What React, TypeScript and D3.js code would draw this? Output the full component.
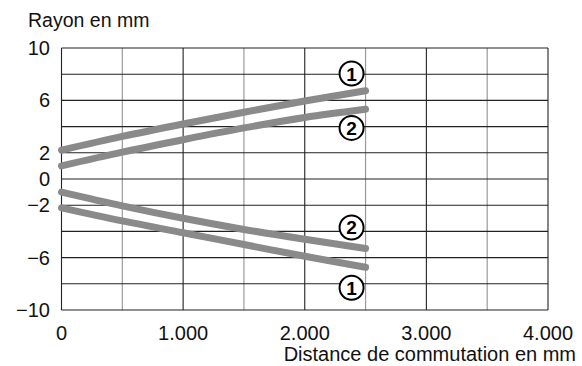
import React from "react";
import * as d3 from "d3";

const xValues = [0, 500, 1000, 1500, 2000, 2500];
const upper1 = [2.2, 3.25, 4.2, 5.1, 5.95, 6.74];
const upper2 = [1.0, 2.05, 3.0, 3.9, 4.7, 5.32];
const lower2 = [-1.0, -2.05, -3.0, -3.85, -4.6, -5.3];
const lower1 = [-2.2, -3.2, -4.1, -5.0, -5.9, -6.74];
const seriesList = [upper1, upper2, lower2, lower1];

const xTicks = [0, 1000, 2000, 3000, 4000];
const xTickLabels = ["0", "1.000", "2.000", "3.000", "4.000"];
const xMinorTicks = [500, 1500, 2500, 3500];
const yGrid = [-10, -8, -6, -4, -2, 0, 2, 4, 6, 8, 10];
const yTickLabels = [10, 6, 2, 0, -2, -6, -10];

const curveMarks = [
  { label: "1", x: 2500, y: 8.05 },
  { label: "2", x: 2500, y: 3.9 },
  { label: "2", x: 2500, y: -3.7 },
  { label: "1", x: 2500, y: -8.3 },
];

const W = 582;
const H = 366;
const left = 61.5;
const right = 548;
const top = 48;
const bottom = 310;

export default function App() {
  const x = d3.scaleLinear().domain([0, 4000]).range([left, right]);
  const y = d3.scaleLinear().domain([-10, 10]).range([bottom, top]);
  const line = d3
    .line<number>()
    .x((_, i) => x(xValues[i]))
    .y((d) => y(d))
    .curve(d3.curveMonotoneX);
  const font = "'Liberation Sans', Arial, sans-serif";
  return (
    <svg
      width={W}
      height={H}
      style={{ position: "absolute", left: 0, top: 0, background: "#fff" }}
      fontFamily={font}
    >
      {xMinorTicks.map((t) => (
        <line key={"xm" + t} x1={x(t)} x2={x(t)} y1={top} y2={bottom} stroke="#9a9a9a" strokeWidth={1.2} />
      ))}
      {yGrid.map((t) => (
        <line key={"yg" + t} x1={left} x2={right} y1={y(t)} y2={y(t)} stroke="#222" strokeWidth={1.1} />
      ))}
      {xTicks.map((t) => (
        <line key={"xg" + t} x1={x(t)} x2={x(t)} y1={top} y2={bottom} stroke="#222" strokeWidth={1.1} />
      ))}
      {seriesList.map((s, i) => (
        <path
          key={"s" + i}
          d={line(s) || ""}
          fill="none"
          stroke="#8a8a8a"
          strokeWidth={7}
          strokeLinecap="round"
        />
      ))}
      {curveMarks.map((m, i) => (
        <g key={"m" + i} transform={`translate(${x(m.x) - 14},${y(m.y)})`}>
          <circle r={12} fill="#fff" stroke="#000" strokeWidth={2} />
          <text
            y={0.5}
            textAnchor="middle"
            dominantBaseline="central"
            fontSize={19}
            fontWeight="bold"
            fill="#000"
          >
            {m.label}
          </text>
        </g>
      ))}
      {yTickLabels.map((t) => (
        <text
          key={"yl" + t}
          x={50}
          y={y(t)}
          textAnchor="end"
          dominantBaseline="central"
          fontSize={20}
          fill="#111"
        >
          {t < 0 ? "\u2212" + Math.abs(t) : String(t)}
        </text>
      ))}
      {xTicks.map((t, i) => (
        <text key={"xl" + t} x={x(t)} y={340} textAnchor="middle" fontSize={20} fill="#111">
          {xTickLabels[i]}
        </text>
      ))}
      <text x={28} y={27} fontSize={19.5} fill="#111">
        Rayon en mm
      </text>
      <text x={576} y={361} textAnchor="end" fontSize={20} fill="#111">
        Distance de commutation en mm
      </text>
    </svg>
  );
}
